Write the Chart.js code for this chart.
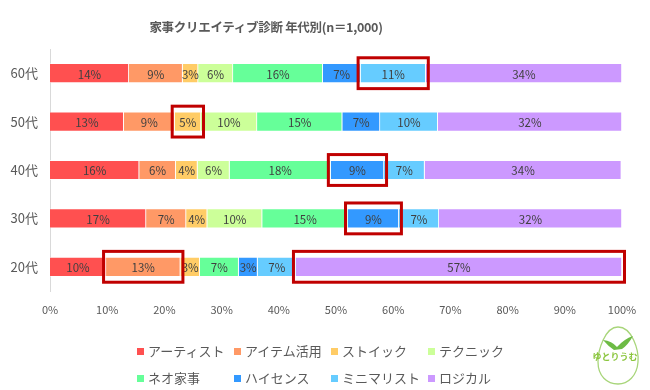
<!DOCTYPE html>
<html>
<head>
<meta charset="utf-8">
<script src="https://cdn.jsdelivr.net/npm/chart.js"></script>
<style>
  body { margin: 0; background: #fff; }
  #wrap { position: relative; width: 650px; height: 390px; font-family: 'Noto Sans CJK JP', 'Noto Sans', sans-serif; }
  #title { position: absolute; left: 66px; top: 19px; width: 400px; text-align: center;
           font-size: 12.5px; letter-spacing: -0.3px; line-height: 16px; font-weight: bold; color: #595959; }
  #legend { position: absolute; left: 134px; top: 337px; width: 400px; }
  .item { display: inline-block; width: 97px; height: 26px; line-height: 26px; font-size: 13px; color: #595959; white-space: nowrap; }
  .box { display: inline-block; width: 7px; height: 7px; margin: 0 4px 0 3px; vertical-align: middle; position: relative; top: -1px; }
</style>
</head>
<body>
<div id="wrap">
  <canvas id="chart" width="650" height="390"></canvas>
  <div id="title">家事クリエイティブ診断 年代別(n＝1,000)</div>
  <div id="legend"></div>
</div>
<script>
// 年代
var ages = ['60代', '50代', '40代', '30代', '20代'];
var types = ['アーティスト', 'アイテム活用', 'ストイック', 'テクニック', 'ネオ家事', 'ハイセンス', 'ミニマリスト', 'ロジカル'];

// 割合 (%), 60代 → 20代
var artist    = [13.8, 12.9, 15.6, 16.8, 9.8];
var itemUse   = [9.4, 8.9, 6.4, 7.0, 13.0];
var stoic     = [2.7, 4.6, 3.8, 3.7, 3.4];
var technic   = [6.1, 9.8, 5.6, 9.6, 0];
var neoKaji   = [15.7, 14.9, 17.7, 15.0, 6.8];
var highSense = [6.6, 6.6, 9.3, 8.9, 3.3];
var minimal   = [11.4, 10.1, 7.1, 7.0, 6.7];
var logical   = [34.3, 32.2, 34.4, 32.0, 57.0];

var xTicks = [0, 10, 20, 30, 40, 50, 60, 70, 80, 90, 100];

// 赤枠で囲む [系列, 年代]
var highlights = [[6, 0], [2, 1], [5, 2], [5, 3], [1, 4], [7, 4]];

var colors = ['#FF5050', '#FF9966', '#FFCC66', '#CCFF99', '#66FF99', '#3399FF', '#66CCFF', '#CC99FF'];
var values = [artist, itemUse, stoic, technic, neoKaji, highSense, minimal, logical];
var font = "'Noto Sans CJK JP', 'Noto Sans', sans-serif";

var datasets = values.map(function (v, i) {
  return {
    label: types[i],
    data: v,
    backgroundColor: colors[i],
    borderColor: 'rgba(255,255,255,0.7)',
    borderWidth: 0.8,
    barPercentage: 0.41,
    categoryPercentage: 1
  };
});

var labelPlugin = {
  id: 'segLabels',
  afterDatasetsDraw: function (chart) {
    var ctx = chart.ctx;
    ctx.save();
    ctx.font = '11.5px ' + font;
    ctx.fillStyle = '#404040';
    ctx.textAlign = 'center';
    ctx.textBaseline = 'middle';
    chart.data.datasets.forEach(function (ds, i) {
      chart.getDatasetMeta(i).data.forEach(function (bar, j) {
        var v = ds.data[j];
        if (v < 1) return;
        ctx.fillText(Math.round(v) + '%', (bar.x + bar.base) / 2, bar.y + 1);
      });
    });
    ctx.restore();
  }
};

var boxPlugin = {
  id: 'redBoxes',
  afterDatasetsDraw: function (chart) {
    var ctx = chart.ctx;
    ctx.save();
    ctx.strokeStyle = '#C00000';
    ctx.lineWidth = 3;
    highlights.forEach(function (h) {
      var bar = chart.getDatasetMeta(h[0]).data[h[1]];
      var l = Math.min(bar.x, bar.base) - 2.5;
      var r = Math.max(bar.x, bar.base) + 2.5;
      var t = bar.y - bar.height / 2 - 5.5;
      var b = bar.y + bar.height / 2 + 5.5;
      ctx.strokeRect(l, t, r - l, b - t);
    });
    ctx.restore();
  }
};

var logoPlugin = {
  id: 'logo',
  afterDraw: function (chart) {
    var ctx = chart.ctx;
    ctx.save();
    ctx.strokeStyle = '#A8D57A';
    ctx.lineWidth = 1.3;
    // egg outline
    ctx.beginPath();
    ctx.moveTo(618, 327);
    ctx.bezierCurveTo(632, 327, 639, 350, 638, 362);
    ctx.bezierCurveTo(637, 376, 628, 384, 618, 384);
    ctx.bezierCurveTo(607, 384, 598, 376, 598, 362);
    ctx.bezierCurveTo(598, 350, 605, 327, 618, 327);
    ctx.stroke();
    // bird
    ctx.fillStyle = '#6DBB45';
    ctx.beginPath();
    ctx.moveTo(603, 340);
    ctx.quadraticCurveTo(612, 341, 617, 347);
    ctx.quadraticCurveTo(624, 339, 633, 336);
    ctx.quadraticCurveTo(628, 345, 622, 349);
    ctx.lineTo(614, 350);
    ctx.quadraticCurveTo(608, 346, 603, 340);
    ctx.fill();
    ctx.font = 'bold 9px ' + font;
    ctx.fillStyle = '#8CC63F';
    ctx.textAlign = 'center';
    ctx.textBaseline = 'middle';
    ctx.fillText('ゆとりうむ', 615, 357);
    ctx.restore();
  }
};

var chart = new Chart('chart', {
  type: 'bar',
  data: { labels: ages, datasets: datasets },
  options: {
    indexAxis: 'y',
    responsive: false,
    animation: false,
    layout: { padding: { top: 49, right: 28, bottom: 69, left: 0 } },
    plugins: {
      legend: { display: false },
      title: { display: false },
      tooltip: { enabled: false }
    },
    scales: {
      x: {
        stacked: true,
        min: 0,
        max: 100,
        afterBuildTicks: function (axis) {
          axis.ticks = xTicks.map(function (v) { return { value: v }; });
        },
        afterFit: function (axis) { axis.height = 30; },
        grid: { display: false, drawTicks: false },
        border: { display: false },
        ticks: {
          padding: 12,
          color: '#595959',
          font: { family: font, size: 11 },
          callback: function (v) { return v + '%'; }
        }
      },
      y: {
        stacked: true,
        afterFit: function (axis) { axis.width = 50; },
        grid: { display: false, drawTicks: false },
        border: { display: true, color: '#D9D9D9', width: 1 },
        ticks: {
          padding: 12,
          color: '#595959',
          font: { family: font, size: 13 }
        }
      }
    }
  },
  plugins: [labelPlugin, boxPlugin, logoPlugin]
});

var legend = document.getElementById('legend');
chart.data.datasets.forEach(function (ds) {
  var el = document.createElement('span');
  el.className = 'item';
  el.innerHTML = '<span class="box" style="background:' + ds.backgroundColor + '"></span>' + ds.label;
  legend.appendChild(el);
});
</script>
</body>
</html>
